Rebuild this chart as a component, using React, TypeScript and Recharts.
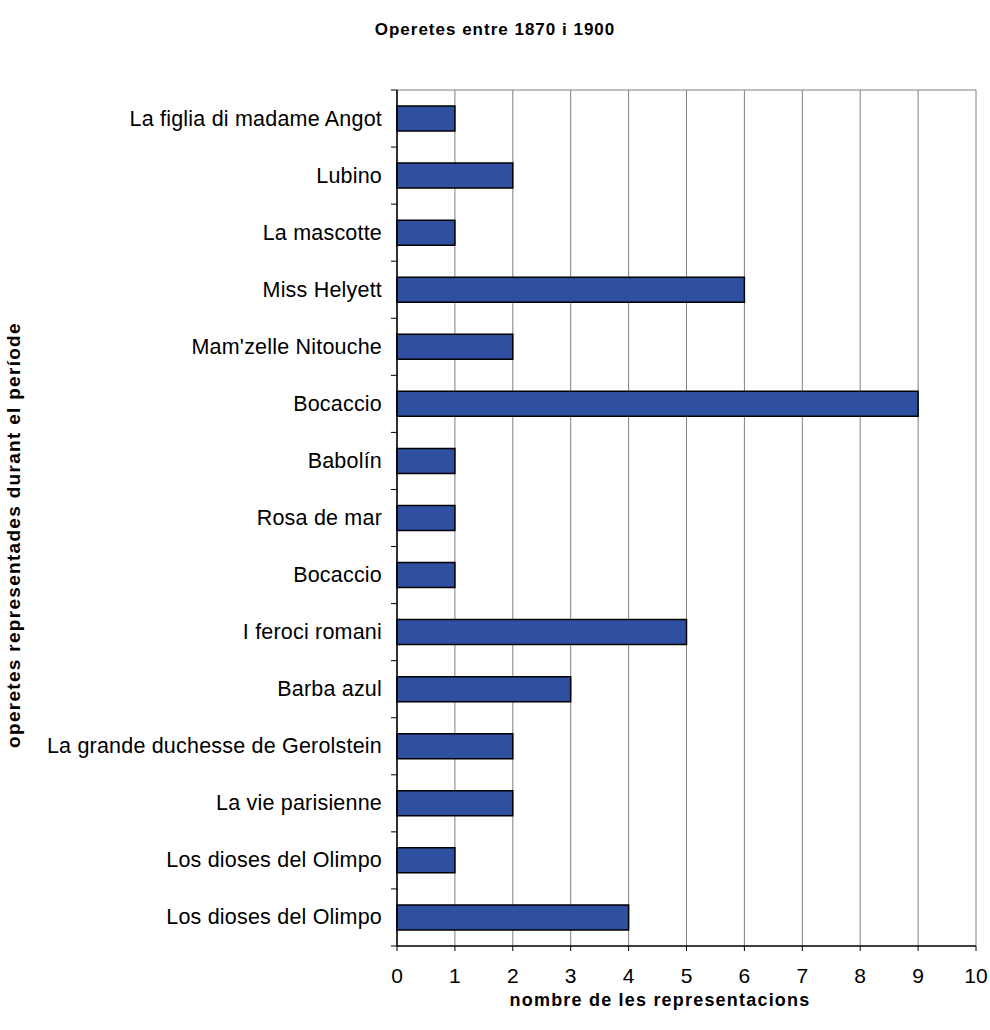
import React from "react";
import {
  BarChart,
  Bar,
  XAxis,
  YAxis,
  CartesianGrid,
} from "recharts";

const operetes = [
  "La figlia di madame Angot",
  "Lubino",
  "La mascotte",
  "Miss Helyett",
  "Mam'zelle Nitouche",
  "Bocaccio",
  "Babolín",
  "Rosa de mar",
  "Bocaccio",
  "I feroci romani",
  "Barba azul",
  "La grande duchesse de Gerolstein",
  "La vie parisienne",
  "Los dioses del Olimpo",
  "Los dioses del Olimpo",
];

const representacions = [1, 2, 1, 6, 2, 9, 1, 1, 1, 5, 3, 2, 2, 1, 4];

const xTicks = [0, 1, 2, 3, 4, 5, 6, 7, 8, 9, 10];

const data = operetes.map((name, i) => ({
  key: i,
  name,
  value: representacions[i],
}));

const font = "'Liberation Sans', Arial, sans-serif";
const AXIS_X = 397;
const PLOT_H = 1030 - 90 - 84;

// category label plus the small tick marks between categories
const CategoryTick = (props: any) => {
  const { y, payload, index } = props;
  const half = payload.offset || PLOT_H / operetes.length / 2;
  return (
    <g>
      <line x1={AXIS_X - 6} x2={AXIS_X} y1={y - half} y2={y - half} stroke="#000" />
      {index === operetes.length - 1 && (
        <line x1={AXIS_X - 6} x2={AXIS_X} y1={y + half} y2={y + half} stroke="#000" />
      )}
      <text
        x={AXIS_X - 15}
        y={y}
        textAnchor="end"
        dominantBaseline="central"
        fill="#000"
        fontSize={21.5}
        fontFamily={font}
        letterSpacing={0.2}
      >
        {operetes[payload.value]}
      </text>
    </g>
  );
};

export default function App() {
  return (
    <div style={{ position: "relative", width: 990, height: 1030, fontFamily: font }}>
      <style>{"html,body{margin:0;padding:0;overflow:hidden}"}</style>
      <div
        style={{
          position: "absolute",
          top: 20,
          left: 0,
          width: 990,
          textAlign: "center",
          fontWeight: "bold",
          fontSize: 17,
          letterSpacing: 1,
        }}
      >
        Operetes entre 1870 i 1900
      </div>
      <div
        style={{
          position: "absolute",
          top: 990,
          left: 360,
          width: 600,
          textAlign: "center",
          fontWeight: "bold",
          fontSize: 18,
          letterSpacing: 1.2,
        }}
      >
        nombre de les representacions
      </div>
      <div
        style={{
          position: "absolute",
          top: 535,
          left: 14,
          width: 0,
          height: 0,
        }}
      >
        <div
          style={{
            position: "absolute",
            transform: "translate(-50%, -50%) rotate(-90deg)",
            whiteSpace: "nowrap",
            fontWeight: "bold",
            fontSize: 19,
            letterSpacing: 1.3,
          }}
        >
          operetes representades durant el període
        </div>
      </div>
      <BarChart
        width={990}
        height={1030}
        data={data}
        layout="vertical"
        margin={{ top: 90, right: 14, left: 0, bottom: 0 }}
        style={{ position: "absolute", top: 0, left: 0, overflow: "visible" }}
      >
        <CartesianGrid
          stroke="#808080"
          horizontal={true}
          horizontalPoints={[90]}
          vertical={true}
        />
        <XAxis
          type="number"
          domain={[0, 10]}
          ticks={xTicks}
          height={84}
          tickSize={5}
          tickMargin={17}
          axisLine={{ stroke: "#000", strokeWidth: 1.5 }}
          tickLine={{ stroke: "#000" }}
          tick={{ fill: "#000", fontSize: 21, fontFamily: font }}
        />
        <YAxis
          type="category"
          dataKey="key"
          width={AXIS_X}
          axisLine={{ stroke: "#000", strokeWidth: 1.5 }}
          tickLine={false}
          tick={<CategoryTick />}
          interval={0}
        />
        <Bar
          dataKey="value"
          fill="#2F4FA0"
          stroke="#000"
          strokeWidth={1.5}
          barSize={25}
          isAnimationActive={false}
        />
      </BarChart>
    </div>
  );
}
